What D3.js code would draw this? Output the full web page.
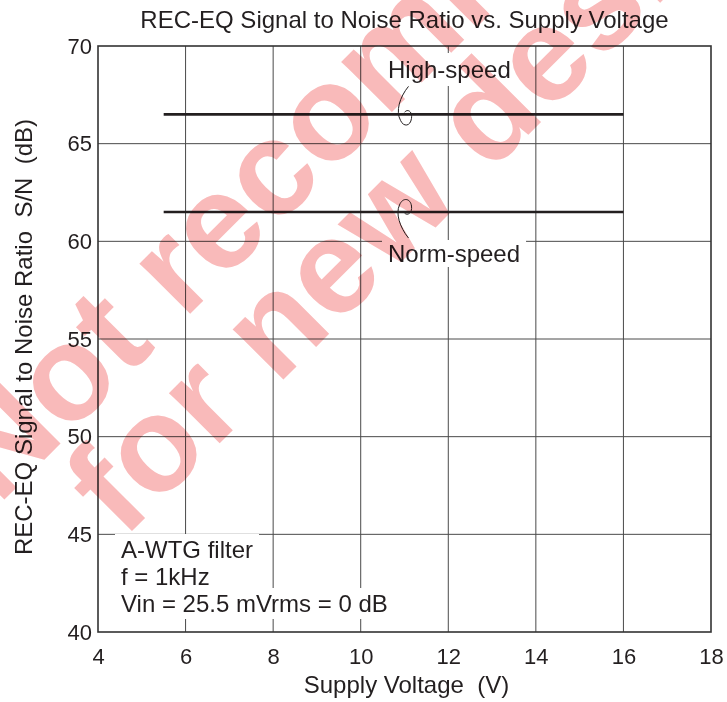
<!DOCTYPE html>
<html>
<head>
<meta charset="utf-8">
<script src="https://d3js.org/d3.v7.min.js"></script>
<style>
  body { margin: 0; background: #fff; }
  text { font-family: "Liberation Sans", Arial, sans-serif; fill: #231f20; white-space: pre; }
</style>
</head>
<body>
<svg id="canvas"></svg>
<script>
// ########## Data ##########

xTicks = [4, 6, 8, 10, 12, 14, 16, 18];
yTicks = [40, 45, 50, 55, 60, 65, 70];

seriesNames = ["High-speed", "Norm-speed"];
supplyVoltage = [5.5, 16];
highSpeedSN = [66.5, 66.5];
normSpeedSN = [61.5, 61.5];

noteLines = ["A-WTG filter", "f = 1kHz", "Vin = 25.5 mVrms = 0 dB"];
watermarkLines = ["Not recommended", "for new designs"];

w = 727;
h = 702;

// ########## SVG ##########
svg = d3.select("#canvas")
    .attr("width", w)
    .attr("height", h);

x = d3.scaleLinear().domain([4, 18]).range([98, 711]);
y = d3.scaleLinear().domain([40, 70]).range([632, 46]);

// ########## Grid ##########
grid = svg.append("g").attr("class", "grid");

grid.selectAll("line.v")
    .data(xTicks.slice(1, -1))
    .enter().append("line")
    .attr("x1", d => x(d)).attr("x2", d => x(d))
    .attr("y1", y(70)).attr("y2", y(40))
    .attr("stroke", "#4a4a4a").attr("stroke-width", 1);

grid.selectAll("line.h")
    .data(yTicks.slice(1, -1))
    .enter().append("line")
    .attr("x1", x(4)).attr("x2", x(18))
    .attr("y1", d => y(d)).attr("y2", d => y(d))
    .attr("stroke", "#4a4a4a").attr("stroke-width", 1);

// ########## Series ##########
lineGen = d3.line().x(d => x(d[0])).y(d => y(d[1]));

series = [
    supplyVoltage.map((v, i) => [v, highSpeedSN[i]]),
    supplyVoltage.map((v, i) => [v, normSpeedSN[i]])
];

svg.selectAll("path.series")
    .data(series)
    .enter().append("path")
    .attr("class", "series")
    .attr("d", lineGen)
    .attr("fill", "none")
    .attr("stroke", "#231f20")
    .attr("stroke-width", 2.6);

// ########## Labels with white backing ##########
function labelWithBg(g, txt, tx, ty, size, padX, padY) {
    var t = g.append("text")
        .attr("x", tx).attr("y", ty)
        .attr("font-size", size)
        .text(txt);
    var b = t.node().getBBox();
    g.insert("rect", "text")
        .attr("x", b.x - padX).attr("y", b.y - padY)
        .attr("width", b.width + 2 * padX).attr("height", b.height + 2 * padY)
        .attr("fill", "#fff");
}

labels = svg.append("g");
labelWithBg(labels.append("g"), seriesNames[0], 388, 78, 24, 8, 3);
labelWithBg(labels.append("g"), seriesNames[1], 388, 262, 24, 6, 0);

note = svg.append("g");
noteLines.forEach(function (s, i) {
    labelWithBg(note.append("g"), s, 121, 558 + i * 27, 24, 6, 2);
});

// ########## Leader curls ##########
hx = x(11);
curls = [
    { y: y(highSpeedSN[0]), d: "M4,-28 C-5,-17 -9,-3 -4,6 C-1,13 6,12 7,4 C8,-3 3,-6 0,-2" },
    { y: y(normSpeedSN[0]), d: "M4,26 C-5,15 -9,1 -5,-7 C-2,-15 6,-14 7,-6 C8,1 3,4 0,1" }
];
svg.selectAll("path.curl")
    .data(curls)
    .enter().append("path")
    .attr("transform", d => "translate(" + hx + "," + d.y + ")")
    .attr("d", d => d.d)
    .attr("fill", "none")
    .attr("stroke", "#231f20")
    .attr("stroke-width", 1);

// ########## Frame ##########
svg.append("rect")
    .attr("x", x(4)).attr("y", y(70))
    .attr("width", x(18) - x(4)).attr("height", y(40) - y(70))
    .attr("fill", "none")
    .attr("stroke", "#333")
    .attr("stroke-width", 1.6);

// ########## Axes ##########
xAxis = svg.append("g")
    .attr("transform", "translate(0," + y(40) + ")")
    .call(d3.axisBottom(x).tickValues(xTicks).tickSize(0).tickPadding(16));
yAxis = svg.append("g")
    .attr("transform", "translate(" + x(4) + ",0)")
    .call(d3.axisLeft(y).tickValues(yTicks).tickSize(0).tickPadding(6));

[xAxis, yAxis].forEach(function (a) {
    a.select(".domain").remove();
    a.selectAll("text")
        .attr("font-size", 22)
        .attr("font-family", "Liberation Sans, Arial, sans-serif")
        .attr("fill", "#231f20");
});

// ########## Titles ##########
svg.append("text")
    .attr("x", (x(4) + x(18)) / 2).attr("y", 28)
    .attr("text-anchor", "middle")
    .attr("font-size", 24)
    .text("REC-EQ Signal to Noise Ratio vs. Supply Voltage");

svg.append("text")
    .attr("x", (x(4) + x(18)) / 2 + 2).attr("y", 693)
    .attr("text-anchor", "middle")
    .attr("font-size", 24)
    .text("Supply Voltage  (V)");

svg.append("text")
    .attr("transform", "translate(32,337) rotate(-90)")
    .attr("text-anchor", "middle")
    .attr("font-size", 24)
    .text("REC-EQ Signal to Noise Ratio  S/N  (dB)");

// ########## Watermark ##########
wm = [
    { s: watermarkLines[0], x: -2, y: 506 },
    { s: watermarkLines[1], x: 123, y: 540 }
];
svg.append("g")
    .style("mix-blend-mode", "multiply")
    .selectAll("text")
    .data(wm)
    .enter().append("text")
    .attr("transform", d => "translate(" + d.x + "," + d.y + ") rotate(-45)")
    .attr("font-size", 135)
    .attr("font-weight", "bold")
    .style("fill", "#f9baba")
    .text(d => d.s);
</script>
</body>
</html>
